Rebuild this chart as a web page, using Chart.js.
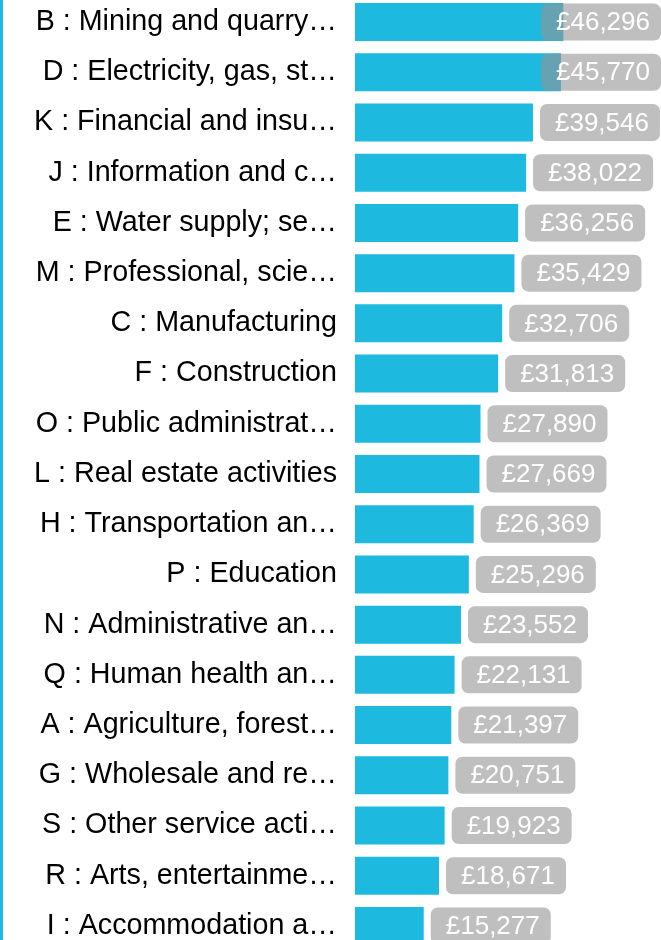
<!DOCTYPE html>
<html>
<head>
<meta charset="utf-8">
<script src="https://cdn.jsdelivr.net/npm/chart.js@4/dist/chart.umd.min.js"></script>
<style>
    html, body {
        margin: 0;
        padding: 0;
        width: 661px;
        height: 940px;
        overflow: hidden;
        background: #ffffff;
    }
    #wrap {
        border-left: 3px solid #1eb9df;
        width: 658px;
        height: 940px;
        overflow: hidden;
    }
    #payChart {
        display: block;
        margin-top: -3px;
    }
</style>
</head>
<body>
<div id="wrap">
    <canvas id="payChart" width="658" height="954"></canvas>
</div>
<script>
const sectors = [
    "B : Mining and quarry…",
    "D : Electricity, gas, st…",
    "K : Financial and insu…",
    "J : Information and c…",
    "E : Water supply; se…",
    "M : Professional, scie…",
    "C : Manufacturing",
    "F : Construction",
    "O : Public administrat…",
    "L : Real estate activities",
    "H : Transportation an…",
    "P : Education",
    "N : Administrative an…",
    "Q : Human health an…",
    "A : Agriculture, forest…",
    "G : Wholesale and re…",
    "S : Other service acti…",
    "R : Arts, entertainme…",
    "I : Accommodation a…",
];

const medianPay = [
    46296, 45770, 39546, 38022, 36256, 35429, 32706, 31813, 27890, 27669,
    26369, 25296, 23552, 22131, 21397, 20751, 19923, 18671, 15277,
];

const FONT = "'Liberation Sans', Arial, sans-serif";

/**
 * grey value boxes at the end of each bar, kept inside the chart area
 */
const valueBoxes = {
    id: "valueBoxes",
    afterDatasetsDraw(chart) {
        const ctx = chart.ctx;
        const area = chart.chartArea;
        const meta = chart.getDatasetMeta(0);

        ctx.save();
        ctx.font = "26px " + FONT;
        ctx.textBaseline = "middle";
        ctx.textAlign = "left";

        meta.data.forEach((bar, i) => {
            const text = "£" + medianPay[i].toLocaleString("en-GB");
            const tw = ctx.measureText(text).width;
            const w = tw + 26;
            const h = 37;
            let x = bar.x + 7;
            if (x + w > area.right) {
                x = area.right - w;
            }
            const y = bar.y - h / 2;

            ctx.fillStyle = "rgba(149, 149, 149, 0.6)";
            ctx.beginPath();
            ctx.roundRect(x, y, w, h, 7);
            ctx.fill();

            ctx.fillStyle = "#ffffff";
            ctx.fillText(text, x + 15, bar.y + 1);
        });
        ctx.restore();
    },
};

const data = {
    labels: sectors,
    datasets: [
        {
            data: medianPay,
            backgroundColor: "#1eb9df",
            borderWidth: 0,
            barPercentage: 0.757,
            categoryPercentage: 1,
        },
    ],
};

const config = {
    type: "bar",
    data: data,
    plugins: [valueBoxes],
    options: {
        indexAxis: "y",
        responsive: false,
        animation: false,
        layout: {
            padding: 0,
        },
        scales: {
            x: {
                display: false,
                min: 0,
                max: 68000,
            },
            y: {
                afterFit(scale) {
                    scale.width = 352;
                    scale.paddingTop = 0;
                    scale.paddingBottom = 0;
                },
                grid: {
                    display: false,
                    drawTicks: false,
                },
                border: {
                    display: false,
                },
                ticks: {
                    padding: 18,
                    color: "#000000",
                    font: {
                        family: FONT,
                        size: 28.7,
                    },
                },
            },
        },
        plugins: {
            legend: {
                display: false,
            },
            tooltip: {
                enabled: false,
            },
        },
    },
};

new Chart(document.getElementById("payChart"), config);
</script>
</body>
</html>
